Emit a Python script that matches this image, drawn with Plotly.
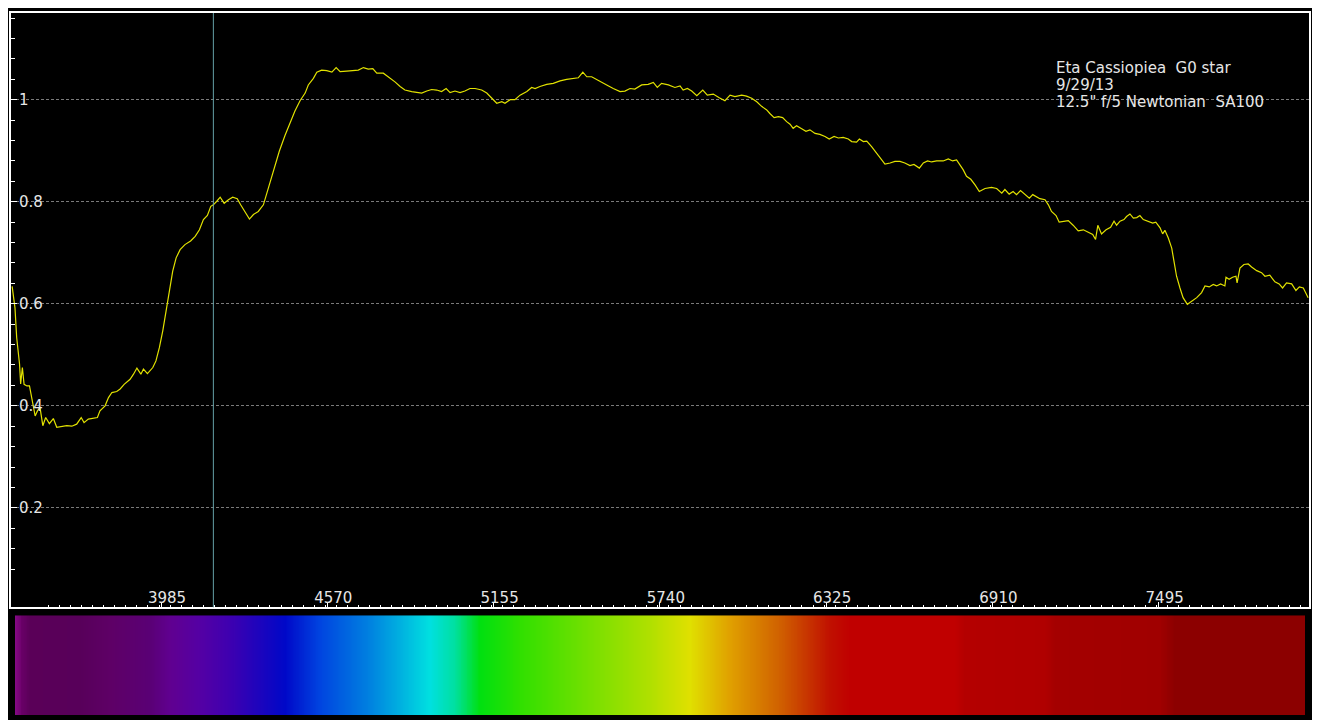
import numpy as np
import plotly.graph_objects as go

# ---- Spectrum data (wavelength in Angstrom, relative intensity) ----
wavelength = [
    3461, 3471, 3477, 3487, 3491, 3497, 3503, 3513, 3522, 3530, 3542, 3550, 3559, 3569, 3579,
    3592, 3606, 3618, 3636, 3653, 3671, 3688, 3704, 3714, 3729, 3747, 3761, 3770, 3788, 3800,
    3812, 3829, 3841, 3855, 3876, 3888, 3900, 3914, 3923, 3937, 3956, 3967, 3979, 3991, 4003,
    4014, 4026, 4038, 4052, 4069, 4089, 4105, 4120, 4134, 4148, 4160, 4169, 4181, 4193, 4207,
    4222, 4237, 4253, 4265, 4281, 4296, 4310, 4327, 4345, 4357, 4371, 4386, 4401, 4421, 4439,
    4456, 4474, 4492, 4503, 4521, 4533, 4550, 4568, 4586, 4601, 4615, 4638, 4662, 4679, 4697,
    4714, 4730, 4744, 4767, 4785, 4808, 4826, 4843, 4867, 4885, 4902, 4920, 4937, 4955, 4972,
    4988, 5002, 5019, 5037, 5054, 5072, 5090, 5113, 5131, 5148, 5166, 5184, 5195, 5213, 5230,
    5248, 5272, 5289, 5301, 5318, 5342, 5365, 5389, 5412, 5435, 5453, 5469, 5483, 5500, 5518,
    5535, 5553, 5576, 5600, 5617, 5635, 5652, 5676, 5699, 5717, 5731, 5746, 5770, 5793, 5811,
    5822, 5837, 5852, 5870, 5891, 5907, 5928, 5949, 5969, 5987, 6004, 6028, 6045, 6063, 6081,
    6098, 6116, 6127, 6142, 6157, 6172, 6186, 6198, 6209, 6221, 6239, 6254, 6268, 6286, 6303,
    6321, 6336, 6353, 6368, 6385, 6403, 6415, 6432, 6442, 6456, 6468, 6485, 6503, 6520, 6532,
    6550, 6567, 6585, 6602, 6620, 6634, 6653, 6667, 6682, 6696, 6714, 6737, 6755, 6770, 6784,
    6796, 6807, 6819, 6834, 6849, 6864, 6884, 6907, 6925, 6943, 6954, 6969, 6983, 6995, 7009,
    7025, 7040, 7052, 7063, 7077, 7095, 7107, 7118, 7134, 7145, 7162, 7177, 7194, 7212, 7230,
    7247, 7263, 7273, 7281, 7294, 7310, 7326, 7338, 7347, 7359, 7373, 7382, 7394, 7406, 7418,
    7429, 7441, 7458, 7474, 7485, 7500, 7509, 7517, 7529, 7541, 7549, 7558, 7570, 7581, 7596,
    7611, 7629, 7646, 7658, 7673, 7687, 7699, 7713, 7728, 7732, 7743, 7755, 7767, 7771, 7781,
    7795, 7810, 7822, 7840, 7857, 7869, 7886, 7904, 7919, 7931, 7945, 7963, 7978, 7990, 8004,
    8021,
]
intensity = [
    0.634, 0.592, 0.534, 0.482, 0.443, 0.475, 0.442, 0.439, 0.439, 0.414, 0.380, 0.390, 0.397, 0.361, 0.377,
    0.365, 0.375, 0.358, 0.359, 0.361, 0.360, 0.364, 0.377, 0.367, 0.374, 0.375, 0.377, 0.390, 0.400, 0.416,
    0.426, 0.428, 0.433, 0.442, 0.452, 0.462, 0.474, 0.462, 0.472, 0.463, 0.475, 0.488, 0.514, 0.547, 0.586,
    0.625, 0.664, 0.690, 0.706, 0.716, 0.723, 0.732, 0.745, 0.765, 0.773, 0.791, 0.794, 0.801, 0.809, 0.797,
    0.804, 0.809, 0.806, 0.794, 0.778, 0.766, 0.775, 0.781, 0.794, 0.817, 0.846, 0.873, 0.899, 0.930, 0.955,
    0.978, 0.998, 1.013, 1.029, 1.042, 1.054, 1.058, 1.057, 1.054, 1.063, 1.055, 1.056, 1.058, 1.058, 1.063,
    1.060, 1.061, 1.052, 1.052, 1.045, 1.035, 1.026, 1.019, 1.016, 1.014, 1.013, 1.017, 1.020, 1.019, 1.016,
    1.022, 1.014, 1.017, 1.014, 1.017, 1.022, 1.022, 1.019, 1.013, 1.003, 0.993, 0.996, 0.993, 1.000, 1.000,
    1.009, 1.016, 1.024, 1.022, 1.026, 1.030, 1.032, 1.037, 1.040, 1.042, 1.043, 1.054, 1.045, 1.045, 1.039,
    1.035, 1.029, 1.022, 1.016, 1.017, 1.022, 1.021, 1.029, 1.030, 1.034, 1.024, 1.032, 1.029, 1.024, 1.027,
    1.019, 1.022, 1.017, 1.008, 1.019, 1.009, 1.011, 1.004, 0.998, 1.009, 1.006, 1.009, 1.007, 1.003, 0.996,
    0.987, 0.980, 0.973, 0.965, 0.967, 0.965, 0.957, 0.952, 0.944, 0.949, 0.943, 0.938, 0.941, 0.934, 0.932,
    0.928, 0.923, 0.928, 0.925, 0.926, 0.923, 0.918, 0.917, 0.923, 0.918, 0.919, 0.908, 0.895, 0.882, 0.874,
    0.876, 0.879, 0.879, 0.876, 0.871, 0.873, 0.866, 0.876, 0.880, 0.878, 0.880, 0.880, 0.884, 0.880, 0.882,
    0.873, 0.863, 0.850, 0.844, 0.833, 0.820, 0.826, 0.828, 0.826, 0.817, 0.824, 0.815, 0.820, 0.814, 0.822,
    0.815, 0.807, 0.814, 0.811, 0.806, 0.804, 0.794, 0.781, 0.773, 0.760, 0.762, 0.763, 0.754, 0.743, 0.745,
    0.741, 0.736, 0.726, 0.754, 0.737, 0.745, 0.750, 0.762, 0.754, 0.762, 0.765, 0.771, 0.776, 0.768, 0.769,
    0.773, 0.765, 0.762, 0.758, 0.760, 0.749, 0.737, 0.744, 0.729, 0.709, 0.683, 0.654, 0.631, 0.612, 0.599,
    0.605, 0.612, 0.622, 0.635, 0.633, 0.638, 0.635, 0.639, 0.635, 0.652, 0.648, 0.652, 0.654, 0.641, 0.670,
    0.677, 0.678, 0.672, 0.665, 0.661, 0.654, 0.656, 0.643, 0.639, 0.631, 0.641, 0.639, 0.626, 0.633, 0.631,
    0.612,
]

# axis ranges / ticks
x_range = [3457, 8024]
x_tick0 = 3985
x_dtick = 585
x_minor_dtick = 39
y_range = [0.005, 1.170]
y_dtick = 0.2
y_minor_dtick = 0.04

cursor_wavelength = 4169

# colour strip under the chart (wavelength -> colour stops)
bar_stop_wavelengths = [3471, 3496, 3524, 3700, 3806, 3946, 4017, 4122, 4228, 4421, 4544, 4720,
                        4826, 4931, 5019, 5107, 5248, 5529, 5705, 5846, 5987, 6163, 6339, 6409,
                        6778, 6814, 7095, 7130, 7499, 7552, 8010]
bar_stop_colors = ["#880a88", "#680066", "#5a0058", "#58005a", "#5e0066", "#5a0075", "#600090",
                   "#5400a4", "#3e00b0", "#0008c8", "#0044e0", "#0082e0", "#00b0e0", "#00e0e0",
                   "#00e0a0", "#00e010", "#30e000", "#80e000", "#b0e000", "#e0e000", "#e0a000",
                   "#d06000", "#c01000", "#c00000", "#c00000", "#b40000", "#b00000", "#a40000",
                   "#a00000", "#8c0000", "#8c0000"]

annotation_lines = ["Eta Cassiopiea \u00a0G0 star", "9/29/13", "12.5\" f/5 Newtonian \u00a0SA100"]

FONT = "DejaVu Sans"
TXT = "#e6e6e6"

# The page body has an 8px margin, so the figure is sized/offset to compensate.
W, Hfig = 1312, 712
ML, MR, MT, MB = 3, 11, 3, 5
PW = W - ML - MR          # 1298
PH = Hfig - MT - MB       # 704

fig = go.Figure()

fig.add_trace(go.Scatter(
    x=wavelength, y=intensity, mode="lines",
    line=dict(color="#e2e200", width=1.2),
    xaxis="x", yaxis="y", hoverinfo="skip", showlegend=False,
))

wmin, wmax = bar_stop_wavelengths[0], bar_stop_wavelengths[-1]
colorscale = [[(w - wmin) / (wmax - wmin), c] for w, c in zip(bar_stop_wavelengths, bar_stop_colors)]
grid = np.arange(wmin, wmax + 1, 3)
fig.add_trace(go.Heatmap(
    x=grid, y=[0], z=[grid], colorscale=colorscale, zmin=wmin, zmax=wmax,
    showscale=False, xaxis="x2", yaxis="y2", hoverinfo="skip",
))

fig.add_vline(x=cursor_wavelength, line_color="#64a0a6", line_width=1)


def px_x(x):  # window px -> paper x
    return (x - 8 - ML) / PW


def px_y(y):  # window px -> paper y
    return 1 - (y - 8 - MT) / PH


for txt, yc in zip(annotation_lines, [66.5, 83.2, 100.0]):
    fig.add_annotation(
        text=txt, xref="paper", yref="paper", x=px_x(1054), y=px_y(yc),
        xanchor="left", yanchor="middle", showarrow=False,
        font=dict(family=FONT, size=15, color=TXT),
    )

fig.update_layout(
    width=W, height=Hfig,
    margin=dict(l=ML, r=MR, t=MT, b=MB),
    paper_bgcolor="black", plot_bgcolor="black",
    showlegend=False,
    xaxis=dict(
        domain=[0, 1], range=x_range, anchor="y",
        tick0=x_tick0, dtick=x_dtick, ticks="inside", ticklen=5, tickwidth=1, tickcolor="white",
        showline=True, mirror=True, linecolor="white", linewidth=2,
        showgrid=False, zeroline=False,
        ticklabelposition="inside", ticklabelshift=6, ticklabelstandoff=-4,
        tickfont=dict(family=FONT, size=15, color=TXT),
        minor=dict(dtick=x_minor_dtick, ticks="inside", ticklen=2, tickcolor="white", showgrid=False),
    ),
    yaxis=dict(
        domain=[px_y(607), 1], range=y_range, anchor="x",
        tick0=0, dtick=y_dtick, ticks="inside", ticklen=6, tickwidth=1, tickcolor="white",
        showline=True, mirror=True, linecolor="white", linewidth=2,
        showgrid=True, gridcolor="#7a7a7a", gridwidth=1, griddash="3px,2px",
        zeroline=False,
        ticklabelposition="inside", ticklabelstandoff=2,
        tickfont=dict(family=FONT, size=15, color=TXT),
        minor=dict(dtick=y_minor_dtick, ticks="inside", ticklen=3.5, tickcolor="white", showgrid=False),
    ),
    xaxis2=dict(
        domain=[px_x(15), px_x(1305)], range=[wmin, wmax], anchor="y2",
        visible=False,
    ),
    yaxis2=dict(
        domain=[0, px_y(615)], range=[-0.5, 0.5], anchor="x2", visible=False,
    ),
)

fig.write_html("out.html")
